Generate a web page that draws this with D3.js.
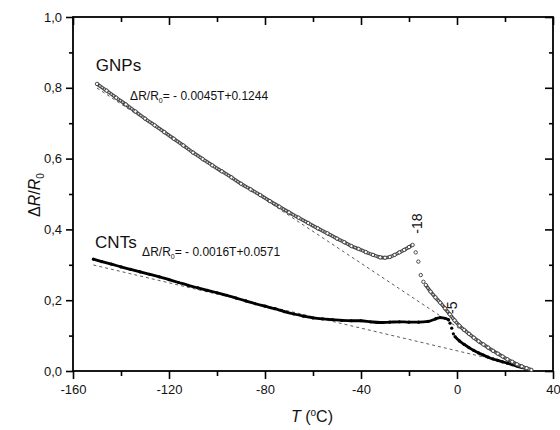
<!DOCTYPE html>
<html>
<head>
<meta charset="utf-8">
<script src="https://cdn.jsdelivr.net/npm/d3@7"></script>
<style>
  body { margin: 0; background: #fff; }
  svg { font-family: Arial, "Liberation Sans", sans-serif; }
</style>
</head>
<body>
<svg id="chart" width="560" height="430"></svg>
<script>
/**
 * Data: [T (°C), ΔR/R0].
 */
const gnpsCooling = [
    [-150, 0.811], [-146, 0.792], [-142, 0.772], [-138, 0.753], [-134, 0.733],
    [-130, 0.713], [-126, 0.694], [-122, 0.675], [-118, 0.656], [-114, 0.637],
    [-110, 0.617], [-106, 0.599], [-102, 0.581], [-98, 0.564], [-94, 0.547],
    [-90, 0.529], [-86, 0.513], [-82, 0.497], [-78, 0.480], [-74, 0.464],
    [-70, 0.448], [-66, 0.433], [-62, 0.418], [-58, 0.403], [-54, 0.389],
    [-50, 0.374], [-47, 0.364], [-44, 0.353], [-41, 0.345], [-38, 0.336],
    [-35, 0.328], [-32, 0.321], [-30, 0.320], [-28, 0.322], [-26, 0.328],
    [-24, 0.335], [-22, 0.342], [-20, 0.350], [-18.5, 0.356]
];
const gnpsJump = [[-17.2, 0.335], [-16.1, 0.309], [-15.1, 0.271], [-14, 0.252]];
const gnpsWarm = [
    [-13, 0.243], [-11, 0.224], [-9, 0.208], [-7, 0.193], [-5, 0.177],
    [-3, 0.160], [-1, 0.143], [1, 0.128], [3, 0.116], [5, 0.105],
    [7, 0.094], [9, 0.084], [11, 0.075], [13, 0.066], [15, 0.057],
    [17, 0.049], [19, 0.041], [21, 0.033], [23, 0.026], [25, 0.019],
    [27, 0.013], [29, 0.008], [31, 0.003]
];

const cntsCooling = [
    [-151.5, 0.316], [-148, 0.309], [-144, 0.302], [-140, 0.294], [-136, 0.287],
    [-132, 0.280], [-128, 0.273], [-124, 0.266], [-120, 0.258], [-116, 0.250],
    [-112, 0.242], [-108, 0.235], [-104, 0.228], [-100, 0.221], [-96, 0.214],
    [-92, 0.206], [-88, 0.198], [-84, 0.190], [-80, 0.183], [-76, 0.176],
    [-72, 0.168], [-68, 0.161], [-64, 0.155], [-60, 0.150], [-56, 0.147],
    [-52, 0.145], [-48, 0.143], [-44, 0.142], [-40, 0.142], [-36, 0.139],
    [-32, 0.137], [-28, 0.138], [-24, 0.139], [-20, 0.138], [-16, 0.138],
    [-12, 0.140], [-9, 0.147], [-7, 0.151], [-5, 0.149], [-3.5, 0.145]
];
const cntsJump = [[-2.9, 0.135], [-2.2, 0.121], [-1.5, 0.105]];
const cntsWarm = [
    [-0.8, 0.097], [1, 0.085], [3, 0.075], [5, 0.066], [7, 0.058],
    [9, 0.051], [11, 0.045], [13, 0.039], [15, 0.034], [17, 0.030],
    [19, 0.026], [21, 0.022], [23, 0.018], [25, 0.014], [27, 0.010],
    [29, 0.006], [31, 0.003]
];

// Linear fits, as printed on the chart
const fitSlopes = [-0.0045, -0.0016],
    fitIntercepts = [0.1244, 0.0571],
    fitRanges = [[-150, 27.6], [-151.5, 31]];

const xMajorTicks = [-160, -120, -80, -40, 0, 40],
    xMinorTicks = [-140, -100, -60, -20, 20],
    yMajorTicks = [0, 0.2, 0.4, 0.6, 0.8, 1.0],
    yMinorTicks = [0.1, 0.3, 0.5, 0.7, 0.9];

/**
 * Visual configs.
 */
const margin = { top: 17, right: 7, bottom: 59, left: 73 },
    width = 560 - margin.left - margin.right,
    height = 430 - margin.top - margin.bottom,
    axisColor = '#000',
    textColor = '#111';

const svg = d3.select('#chart');
const g = svg.append('g').attr('transform', 'translate(' + margin.left + ',' + margin.top + ')');

const x = d3.scaleLinear().domain([-160, 40]).range([0, width]),
    y = d3.scaleLinear().domain([0, 1]).range([height, 0]);

// Plain hyphen for negatives, comma as decimal mark
const intFmt = d => String(d),
    commaFmt = d => d.toFixed(1).replace('.', ',');

/**
 * Axes.
 */
function styleAxis(sel) {
    sel.select('.domain').remove();
    sel.selectAll('line').attr('stroke', axisColor).attr('stroke-width', 1.6);
    sel.selectAll('text').attr('fill', textColor).style('font-size', '13px')
        .style('font-family', 'Arial, "Liberation Sans", sans-serif');
}

g.append('g').attr('transform', 'translate(0,' + height + ')')
    .call(d3.axisBottom(x).tickValues(xMajorTicks).tickFormat(intFmt).tickSize(8).tickPadding(6))
    .call(styleAxis);
g.append('g').attr('transform', 'translate(0,' + height + ')')
    .call(d3.axisBottom(x).tickValues(xMinorTicks).tickFormat('').tickSize(5))
    .call(styleAxis);
g.append('g')
    .call(d3.axisTop(x).tickValues(xMajorTicks).tickFormat('').tickSize(-8))
    .call(styleAxis);
g.append('g')
    .call(d3.axisTop(x).tickValues(xMinorTicks).tickFormat('').tickSize(-5))
    .call(styleAxis);

g.append('g')
    .call(d3.axisLeft(y).tickValues(yMajorTicks).tickFormat(commaFmt).tickSize(7).tickPadding(4))
    .call(styleAxis);
g.append('g')
    .call(d3.axisLeft(y).tickValues(yMinorTicks).tickFormat('').tickSize(4))
    .call(styleAxis);
g.append('g').attr('transform', 'translate(' + width + ',0)')
    .call(d3.axisRight(y).tickValues(yMajorTicks).tickFormat('').tickSize(-8))
    .call(styleAxis);
g.append('g').attr('transform', 'translate(' + width + ',0)')
    .call(d3.axisRight(y).tickValues(yMinorTicks).tickFormat('').tickSize(-4))
    .call(styleAxis);

g.append('rect')
    .attr('width', width).attr('height', height)
    .attr('fill', 'none').attr('stroke', axisColor).attr('stroke-width', 1.8);

/**
 * Fit lines.
 */
fitSlopes.forEach((k, i) => {
    const pts = fitRanges[i].map(t => [t, k * t + fitIntercepts[i]]);
    g.append('line')
        .attr('x1', x(pts[0][0])).attr('y1', y(pts[0][1]))
        .attr('x2', x(pts[1][0])).attr('y2', y(pts[1][1]))
        .attr('stroke', '#333').attr('stroke-width', 0.8)
        .attr('stroke-dasharray', '3,3');
});

/**
 * Curves.
 */
const line = d3.line().x(d => x(d[0])).y(d => y(d[1])).curve(d3.curveMonotoneX);

// CNTs: filled dots, dense enough to read as a thick line
[cntsCooling, cntsWarm].forEach(seg => {
    g.append('path').attr('d', line(seg))
        .attr('fill', 'none').attr('stroke', '#000').attr('stroke-width', 2.8);
});
g.append('g').selectAll('circle').data(cntsCooling.concat(cntsJump, cntsWarm))
    .join('circle')
    .attr('cx', d => x(d[0])).attr('cy', d => y(d[1])).attr('r', 1.6)
    .attr('fill', '#000');

// GNPs: open circles
[gnpsCooling, gnpsWarm].forEach(seg => {
    g.append('path').attr('d', line(seg))
        .attr('fill', 'none').attr('stroke', '#4a4a4a').attr('stroke-width', 3.6);
    g.append('path').attr('d', line(seg))
        .attr('fill', 'none').attr('stroke', '#e0e0e0').attr('stroke-width', 1.3)
        .attr('stroke-dasharray', '1.6,1.2');
});
g.append('g').selectAll('circle').data(gnpsCooling.concat(gnpsJump, gnpsWarm))
    .join('circle')
    .attr('cx', d => x(d[0])).attr('cy', d => y(d[1])).attr('r', 1.7)
    .attr('fill', '#fff').attr('stroke', '#3a3a3a').attr('stroke-width', 0.9);

/**
 * Annotations.
 */
function equation(tx, ty, text) {
    const t = g.append('text').attr('x', x(tx)).attr('y', y(ty))
        .attr('fill', textColor).style('font-size', '12px');
    t.append('tspan').text('\u0394R/R');
    t.append('tspan').attr('dy', 3).style('font-size', '7px').text('0');
    t.append('tspan').attr('dy', -3).text(text);
}

g.append('text').attr('x', x(-150.5)).attr('y', y(0.848))
    .attr('fill', textColor).style('font-size', '17px').text('GNPs');
equation(-136.2, 0.7655, '= - 0.0045T+0.1244');

g.append('text').attr('x', x(-150.8)).attr('y', y(0.347))
    .attr('fill', textColor).style('font-size', '17px').text('CNTs');
equation(-131.2, 0.325, '= - 0.0016T+0.0571');

g.append('text')
    .attr('transform', 'translate(' + x(-14.6) + ',' + y(0.388) + ') rotate(-90)')
    .attr('fill', textColor).style('font-size', '14px').text('-18');
g.append('text')
    .attr('transform', 'translate(' + x(0) + ',' + y(0.161) + ') rotate(-90)')
    .attr('fill', textColor).style('font-size', '14px').text('-5');

// Axis titles
const xTitle = svg.append('text').attr('x', 312).attr('y', 422)
    .attr('text-anchor', 'middle').attr('fill', textColor).style('font-size', '16px');
xTitle.append('tspan').style('font-style', 'italic').text('T');
xTitle.append('tspan').text(' (');
xTitle.append('tspan').attr('dy', -6).style('font-size', '10px').text('o');
xTitle.append('tspan').attr('dy', 6).text('C)');

const yTitle = svg.append('text')
    .attr('transform', 'translate(40,195) rotate(-90)')
    .attr('text-anchor', 'middle').attr('fill', textColor).style('font-size', '16px');
yTitle.append('tspan').text('\u0394');
yTitle.append('tspan').style('font-style', 'italic').text('R');
yTitle.append('tspan').text('/');
yTitle.append('tspan').style('font-style', 'italic').text('R');
yTitle.append('tspan').attr('dy', 4).style('font-size', '10px').text('0');
</script>
</body>
</html>
